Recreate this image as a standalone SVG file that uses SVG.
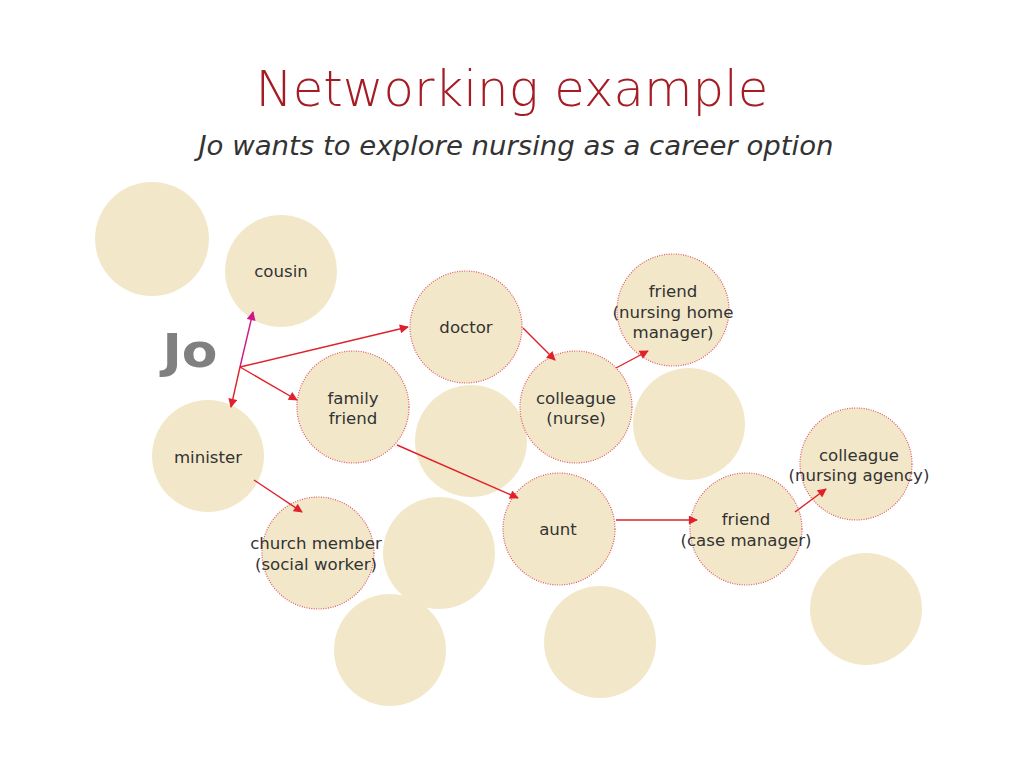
<svg xmlns="http://www.w3.org/2000/svg" width="1024" height="768" viewBox="0 0 1024 768">
<style>
.c{fill:#f2e8c9}
.d{stroke:#e05562;stroke-width:1.2;stroke-dasharray:1 1.4}
.t{font-family:"DejaVu Sans","Liberation Sans",sans-serif;font-size:16.6px;fill:#333;text-anchor:middle}
.a{stroke:#e0202a;stroke-width:1.4;fill:none;marker-end:url(#ah)}
</style>
<defs>
<marker id="ah" viewBox="0 0 10 10" refX="9" refY="5" markerWidth="10" markerHeight="9" markerUnits="userSpaceOnUse" orient="auto"><path d="M0,0 L10,5 L0,10 z" fill="#e0202a"/></marker>
<marker id="am" viewBox="0 0 10 10" refX="9" refY="5" markerWidth="10" markerHeight="9" markerUnits="userSpaceOnUse" orient="auto"><path d="M0,0 L10,5 L0,10 z" fill="#d0158a"/></marker>
</defs>
<rect width="1024" height="768" fill="#fff"/>
<text x="512" y="106" text-anchor="middle" font-family="DejaVu Sans, sans-serif" font-weight="200" font-size="50" fill="#a61c24" textLength="513" lengthAdjust="spacingAndGlyphs">Networking example</text>
<text x="516" y="155" text-anchor="middle" font-family="DejaVu Sans, sans-serif" font-weight="200" font-style="italic" font-size="26" fill="#333" textLength="635" lengthAdjust="spacingAndGlyphs">Jo wants to explore nursing as a career option</text>
<g id="blanks">
<circle class="c" cx="152" cy="239" r="57"/>
<circle class="c" cx="471" cy="441" r="56"/>
<circle class="c" cx="689" cy="424" r="56"/>
<circle class="c" cx="439" cy="553" r="56"/>
<circle class="c" cx="390" cy="650" r="56"/>
<circle class="c" cx="600" cy="642" r="56"/>
<circle class="c" cx="866" cy="609" r="56"/>
</g>
<g id="jo"><text x="190" y="367" font-family="DejaVu Sans, sans-serif" font-weight="bold" font-size="46" fill="#808080" text-anchor="middle" textLength="55" lengthAdjust="spacingAndGlyphs">Jo</text></g>
<g id="cousin"><circle class="c" cx="281" cy="271" r="56"/><text class="t" x="281" y="277">cousin</text></g>
<g id="minister"><circle class="c" cx="208" cy="456" r="56"/><text class="t" x="208" y="463">minister</text></g>
<g id="doctor"><circle class="c d" cx="466" cy="327" r="56"/><text class="t" x="466" y="333">doctor</text></g>
<g id="friend-nh"><circle class="c d" cx="673" cy="310" r="56"/><text class="t" x="673" y="297">friend</text><text class="t" x="673" y="318">(nursing home</text><text class="t" x="673" y="338">manager)</text></g>
<g id="family-friend"><circle class="c d" cx="353" cy="407" r="56"/><text class="t" x="353" y="404">family</text><text class="t" x="353" y="424">friend</text></g>
<g id="colleague-nurse"><circle class="c d" cx="576" cy="407" r="56"/><text class="t" x="576" y="404">colleague</text><text class="t" x="576" y="424">(nurse)</text></g>
<g id="colleague-agency"><circle class="c d" cx="856" cy="464" r="56"/><text class="t" x="859" y="461">colleague</text><text class="t" x="859" y="481">(nursing agency)</text></g>
<g id="aunt"><circle class="c d" cx="559" cy="529" r="56"/><text class="t" x="558" y="535">aunt</text></g>
<g id="friend-cm"><circle class="c d" cx="746" cy="529" r="56"/><text class="t" x="746" y="525">friend</text><text class="t" x="746" y="546">(case manager)</text></g>
<g id="church"><circle class="c d" cx="318" cy="553" r="56"/><text class="t" x="316" y="549">church member</text><text class="t" x="316" y="570">(social worker)</text></g>
<g id="connectors">
<line x1="240" y1="367" x2="253" y2="312" stroke="#d0158a" stroke-width="1.4" marker-end="url(#am)"/>
<line class="a" x1="240" y1="367" x2="231" y2="407"/>
<line class="a" x1="240" y1="367" x2="408" y2="327"/>
<line class="a" x1="240" y1="367" x2="297" y2="400"/>
<line class="a" x1="523" y1="328" x2="555" y2="360"/>
<line class="a" x1="616" y1="368" x2="648" y2="351"/>
<line class="a" x1="397" y1="445" x2="518" y2="498"/>
<line class="a" x1="254" y1="480" x2="302" y2="512"/>
<line class="a" x1="616" y1="520" x2="697" y2="520"/>
<line class="a" x1="795" y1="512" x2="826" y2="489"/>
</g>
</svg>
